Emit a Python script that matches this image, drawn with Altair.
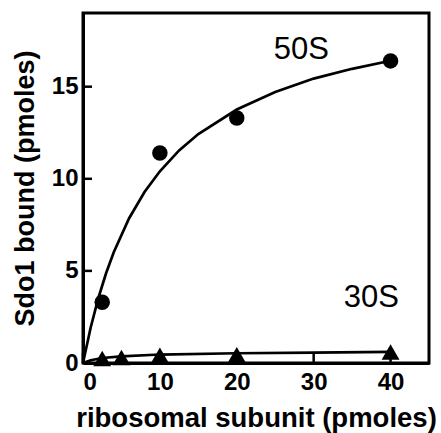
import altair as alt
import pandas as pd

# Measured binding of Sdo1 to ribosomal subunits
sub50_x = [2.5, 10, 20, 40]
sub50_y = [3.3, 11.4, 13.3, 16.4]
sub30_x = [2.5, 5, 10, 20, 40]
sub30_y = [0.25, 0.3, 0.42, 0.45, 0.6]

# Saturation curves through each series
fit50_x = [0, 1, 2, 3, 4, 6, 8, 10, 12.5, 15, 20, 25, 30, 35, 40]
fit50_y = [0, 1.93, 3.53, 4.87, 6.01, 7.86, 9.28, 10.41, 11.54, 12.43, 13.76, 14.71, 15.44, 15.97, 16.41]
fit30_x = [0, 1, 2.5, 5, 10, 20, 30, 40]
fit30_y = [0, 0.15, 0.27, 0.36, 0.46, 0.53, 0.56, 0.6]

# Series labels
label_text = ["50S", "30S"]
label_x = [28.4, 37.5]
label_y = [17.0, 3.55]

x_ticks = [0, 10, 20, 30, 40]
y_ticks = [0, 5, 10, 15]

W, H = 346, 350
FONT = "Liberation Sans"

xs = alt.Scale(domain=[0, 45], nice=False, zero=False)
ys = alt.Scale(domain=[0, 19], nice=False, zero=False)

pts50 = pd.DataFrame({"x": sub50_x, "y": sub50_y})
pts30 = pd.DataFrame({"x": sub30_x, "y": sub30_y})
fit50 = pd.DataFrame({"x": fit50_x, "y": fit50_y})
fit30 = pd.DataFrame({"x": fit30_x, "y": fit30_y})
labels = pd.DataFrame({"t": label_text, "x": label_x, "y": label_y})

x_enc = alt.X(
    "x:Q", scale=xs,
    axis=alt.Axis(
        values=x_ticks, title="ribosomal subunit (pmoles)", grid=False, ticks=False,
        domainColor="black", domainWidth=3, labelFont=FONT, labelFontSize=24,
        labelFontWeight="bold", labelColor="black", labelPadding=7,
        titleFont=FONT, titleFontSize=27.5, titleFontWeight="bold", titleColor="black",
        titlePadding=10,
    ),
)
y_enc = alt.Y(
    "y:Q", scale=ys,
    axis=alt.Axis(
        values=y_ticks, title="Sdo1 bound (pmoles)", grid=False, ticks=False,
        domainColor="black", domainWidth=3, labelFont=FONT, labelFontSize=24,
        labelFontWeight="bold", labelColor="black", labelPadding=5,
        titleFont=FONT, titleFontSize=27, titleFontWeight="bold", titleColor="black",
        titlePadding=12,
    ),
)

line50 = alt.Chart(fit50).mark_line(color="black", strokeWidth=2.7).encode(x=x_enc, y=y_enc)
line30 = alt.Chart(fit30).mark_line(color="black", strokeWidth=2.7).encode(
    x=alt.X("x:Q", scale=xs), y=alt.Y("y:Q", scale=ys))
dots50 = alt.Chart(pts50).mark_point(shape="circle", filled=True, color="black", opacity=1,
                                     size=240, strokeWidth=0).encode(
    x=alt.X("x:Q", scale=xs), y=alt.Y("y:Q", scale=ys))
tri30 = alt.Chart(pts30).mark_point(shape="triangle-up", filled=True, color="black", opacity=1,
                                    size=320, strokeWidth=0).encode(
    x=alt.X("x:Q", scale=xs), y=alt.Y("y:Q", scale=ys))
text = alt.Chart(labels).mark_text(font=FONT, fontSize=31, color="black", align="center", baseline="middle").encode(
    x=alt.X("x:Q", scale=xs), y=alt.Y("y:Q", scale=ys), text="t:N")

# Inward-facing tick marks
xt = alt.Chart(pd.DataFrame({"x": x_ticks})).mark_rule(color="black", strokeWidth=2.5).encode(
    x=alt.X("x:Q", scale=xs), y=alt.value(H), y2=alt.value(H - 10))
yt = alt.Chart(pd.DataFrame({"y": y_ticks})).mark_rule(color="black", strokeWidth=2.5).encode(
    y=alt.Y("y:Q", scale=ys), x=alt.value(0), x2=alt.value(9))

chart = alt.layer(line50, line30, xt, yt, dots50, tri30, text).properties(
    width=W, height=H,
    autosize=alt.AutoSizeParams(type="none"),
    padding={"left": 83, "top": 13, "right": 12, "bottom": 70},
    background="white",
).configure_view(stroke="black", strokeWidth=3)

chart.save("out.html", embed_options={"renderer": "svg", "actions": False})
